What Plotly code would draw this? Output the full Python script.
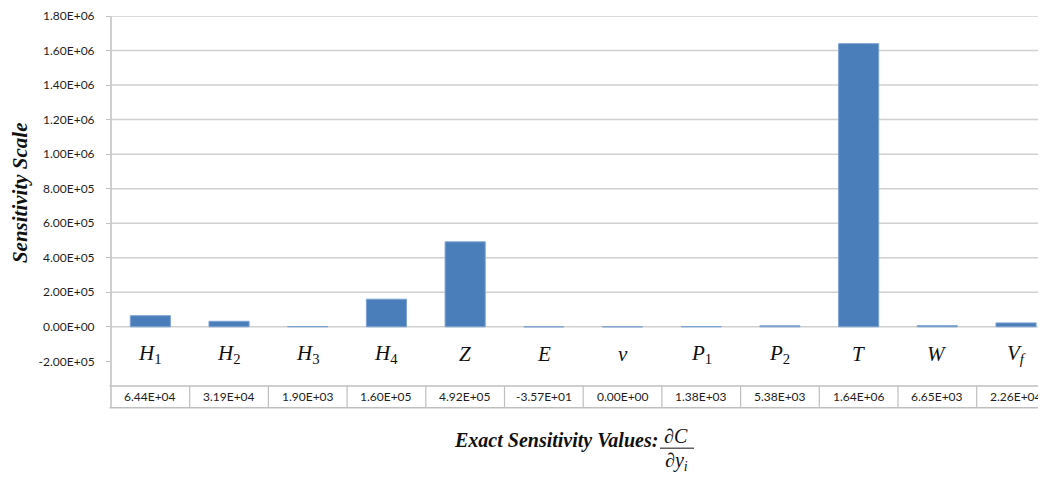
import plotly.graph_objects as go

# ---------------- data ----------------
categories = ["<i>H</i><sub>1</sub>", "<i>H</i><sub>2</sub>", "<i>H</i><sub>3</sub>", "<i>H</i><sub>4</sub>",
              "<i>Z</i>", "<i>E</i>", "<i>ν</i>", "<i>P</i><sub>1</sub>", "<i>P</i><sub>2</sub>",
              "<i>T</i>", "<i>W</i>", "<i>V</i><sub><i>f</i></sub>"]
values = [6.44e4, 3.19e4, 1.90e3, 1.60e5, 4.92e5, -3.57e1, 0.0, 1.38e3, 5.38e3, 1.64e6, 6.65e3, 2.26e4]
tick_values = [-2e5, 0, 2e5, 4e5, 6e5, 8e5, 1e6, 1.2e6, 1.4e6, 1.6e6, 1.8e6]
grid_values = [0, 2e5, 4e5, 6e5, 8e5, 1e6, 1.2e6, 1.4e6, 1.6e6, 1.8e6]
tick_text = [f"{v:.2E}" for v in tick_values]
table_text = [f"{v:.2E}" for v in values]

# ---------------- layout helpers (page pixel -> paper) ----------------
OFF = 8                      # default body margin of the html page
W, H = 1046 - OFF, 479 - OFF
L, R = 111 - OFF, 0
T = 11 - OFF
B = H - (386 - OFF)
PW, PH = W - L - R, H - T - B
CAT_W = 78.7


def px(x):
    return (x - OFF - L) / PW


def py(y):
    return (H - B - (y - OFF)) / PH


SERIF = "Liberation Serif, Times New Roman, serif"
SANS = "Lato, Open Sans, sans-serif"
GRID = "#d0d0d0"
LINE = "#bfbfbf"
TXT = "#111111"

idx = list(range(len(categories)))

fig = go.Figure()
fig.add_trace(go.Bar(
    x=idx, y=values, width=0.51,
    marker=dict(color="#4a7ebb", line=dict(color="#7ea3d3", width=1)),
    hoverinfo="y",
))

shapes = []
for g in grid_values:
    shapes.append(dict(type="line", xref="paper", yref="y", x0=0, x1=1, y0=g, y1=g,
                       line=dict(color=GRID, width=1.5), layer="below"))
shapes.append(dict(type="line", xref="paper", yref="paper", x0=0, x1=0, y0=py(408), y1=1,
                   line=dict(color=LINE, width=1.5)))
for yy in (386, 408):
    shapes.append(dict(type="line", xref="paper", yref="paper", x0=px(109.5), x1=1, y0=py(yy), y1=py(yy),
                       line=dict(color=LINE, width=1.5)))
for i in idx:
    shapes.append(dict(type="line", xref="x", yref="paper", x0=i + 0.5, x1=i + 0.5,
                       y0=py(408), y1=py(386), line=dict(color=LINE, width=1.2)))
shapes.append(dict(type="line", xref="paper", yref="paper", x0=px(660), x1=px(694),
                   y0=py(449), y1=py(449), line=dict(color=TXT, width=1)))

annotations = []
for i, c in enumerate(categories):
    annotations.append(dict(x=i, y=-1.6e5, xref="x", yref="y", text=c, showarrow=False,
                            xanchor="center", yanchor="middle",
                            font=dict(family=SERIF, size=21, color=TXT)))
for i, t in enumerate(table_text):
    annotations.append(dict(x=i, y=py(397), xref="x", yref="paper", text=t, showarrow=False,
                            xanchor="center", yanchor="middle",
                            font=dict(family=SANS, size=12, color="#1e1e1e")))
annotations.append(dict(x=px(19.5), y=py(190), xref="paper", yref="paper",
                        text="<b><i>Sensitivity Scale</i></b>", textangle=-90, showarrow=False,
                        xanchor="center", yanchor="middle",
                        font=dict(family=SERIF, size=21, color=TXT)))
annotations.append(dict(x=px(556), y=py(441), xref="paper", yref="paper",
                        text="<b><i>Exact Sensitivity Values:</i></b>", showarrow=False,
                        xanchor="center", yanchor="middle",
                        font=dict(family=SERIF, size=20, color=TXT)))
annotations.append(dict(x=px(676), y=py(437), xref="paper", yref="paper", text="<i>∂C</i>",
                        showarrow=False, xanchor="center", yanchor="middle",
                        font=dict(family=SERIF, size=20, color=TXT)))
annotations.append(dict(x=px(676), y=py(463), xref="paper", yref="paper",
                        text="<i>∂y</i><sub><i>i</i></sub>", showarrow=False,
                        xanchor="center", yanchor="middle",
                        font=dict(family=SERIF, size=20, color=TXT)))

# y range: 1.8e6 at page pixel 11, 0 at page pixel 326, plot bottom at 386
zero_px = 326
scale = (zero_px - 11) / 1.8e6
y_bottom = -(386 - zero_px) / scale

fig.update_layout(
    width=W, height=H,
    margin=dict(l=L, r=R, t=T, b=B, pad=0),
    paper_bgcolor="white", plot_bgcolor="white",
    showlegend=False,
    shapes=shapes, annotations=annotations,
    xaxis=dict(range=[-0.5, -0.5 + PW / CAT_W], showticklabels=False, showgrid=False,
               zeroline=False, showline=False, ticks=""),
    yaxis=dict(range=[y_bottom, 1.8e6], tickvals=tick_values, ticktext=tick_text,
               showgrid=False, zeroline=False, showline=False, ticklabeloverflow="allow",
               ticks="outside", ticklen=4, tickcolor=LINE, ticklabelstandoff=9,
               tickfont=dict(family=SANS, size=12, color="#1e1e1e")),
)

fig.write_html("out.html")
